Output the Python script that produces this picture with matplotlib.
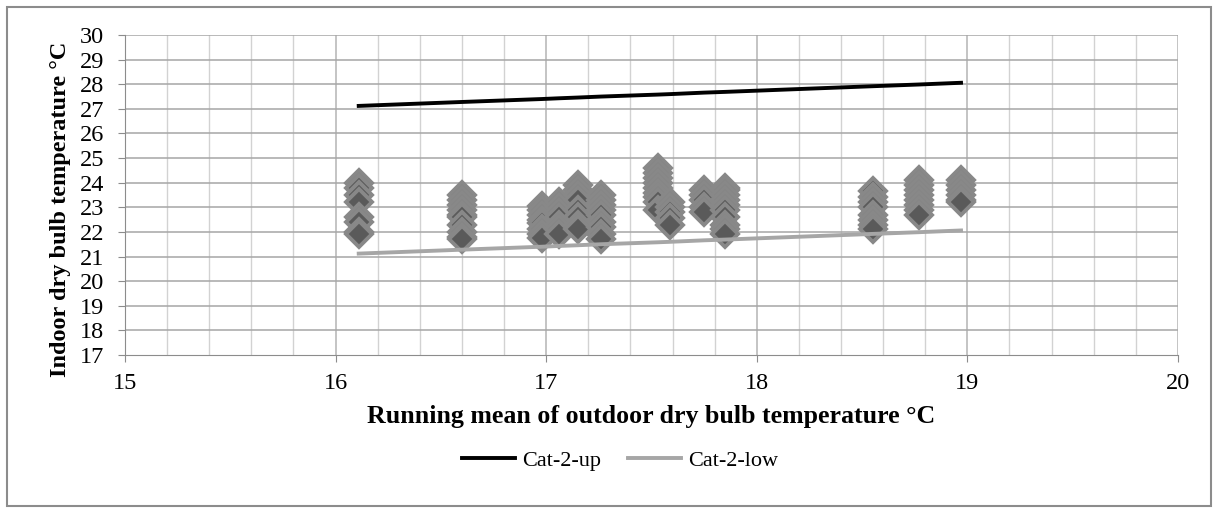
import matplotlib.pyplot as plt
from matplotlib.patches import Rectangle

plt.rcParams['font.family'] = ['Liberation Serif', 'DejaVu Serif']

# measured indoor temperatures, grouped by running mean outdoor temperature
groups_x = [16.11, 16.60, 16.98, 17.06, 17.15, 17.26, 17.53, 17.59, 17.75, 17.85, 18.55, 18.77, 18.97]
groups_y = [
    [24.0, 23.8, 23.5, 23.2, 22.6, 22.4, 22.0, 21.9],
    [23.5, 23.3, 23.1, 22.9, 22.7, 22.6, 22.3, 22.0, 21.8, 21.7],
    [23.05, 22.9, 22.7, 22.5, 22.35, 22.1, 21.9, 21.75],
    [23.2, 23.0, 22.8, 22.6, 22.3, 22.1, 21.9],
    [23.9, 23.7, 23.5, 23.3, 22.9, 22.6, 22.3, 22.1],
    [23.5, 23.3, 23.1, 22.9, 22.7, 22.4, 22.2, 21.9, 21.7],
    [24.6, 24.4, 24.2, 24.0, 23.8, 23.6, 23.4, 23.2, 22.9],
    [23.2, 23.0, 22.8, 22.55, 22.3],
    [23.7, 23.5, 23.3, 23.0, 22.8],
    [23.8, 23.7, 23.5, 23.3, 23.1, 22.9, 22.6, 22.3, 22.1, 21.9],
    [23.65, 23.4, 23.2, 23.0, 22.7, 22.5, 22.3, 22.1],
    [24.1, 23.9, 23.7, 23.5, 23.3, 23.1, 22.9, 22.7],
    [24.1, 23.9, 23.7, 23.5, 23.3, 23.2],
]

# category II comfort limits
cat2_up = [27.12, 27.28, 27.40, 27.43, 27.46, 27.50, 27.58, 27.60, 27.66, 27.69, 27.92, 27.99, 28.06]
cat2_low = [21.12, 21.28, 21.40, 21.43, 21.46, 21.50, 21.58, 21.60, 21.66, 21.69, 21.92, 21.99, 22.06]

fig = plt.figure(figsize=(12.18, 5.12), dpi=100)
fig.patches.append(Rectangle((0.006, 0.012), 0.988, 0.974, transform=fig.transFigure,
                             fill=False, edgecolor='#8c8c8c', linewidth=1.5))
ax = fig.add_axes([0.1026, 0.3066, 0.8645, 0.625])

# grid
for v in range(151, 201):
    xv = v / 10
    if v % 10 == 0:
        ax.axvline(xv, color='#b4b4b4', linewidth=1.1, zorder=0)
    elif v % 2 == 0:
        ax.axvline(xv, color='#d2d2d2', linewidth=1.0, zorder=0)
for yv in range(18, 31):
    ax.axhline(yv, color='#a6a6a6', linewidth=1.1, zorder=0)

for gx, gy in zip(groups_x, groups_y):
    ax.plot([gx] * len(gy), gy, linestyle='none', marker='D', markersize=13.5,
            markerfacecolor='#5a5a5a', markeredgecolor='#888888', markeredgewidth=2.8, zorder=3)

ax.plot(groups_x, cat2_up, color='black', linewidth=2.8, label='Cat-2-up', zorder=4)
ax.plot(groups_x, cat2_low, color='#a6a6a6', linewidth=2.8, label='Cat-2-low', zorder=4)

ax.set_xlim(15, 20)
ax.set_ylim(17, 30)
ax.set_xticks(range(15, 21))
ax.set_yticks(range(17, 31))
for s in ['top', 'right']:
    ax.spines[s].set_visible(False)
for s in ['left', 'bottom']:
    ax.spines[s].set_color('#8c8c8c')
ax.tick_params(direction='out', length=5, color='#8c8c8c', labelsize=17.5)
ax.tick_params(axis='x', pad=8)
ax.tick_params(axis='y', pad=10)

ax.set_xlabel('Running mean of outdoor dry bulb temperature °C', fontsize=18.6, fontweight='bold', labelpad=8)
ax.set_ylabel('Indoor dry bulb temperature °C', fontsize=17.5, fontweight='bold')
ax.yaxis.set_label_coords(-0.051, 0.455)

ax.legend(loc='center', bbox_to_anchor=(0.47, -0.33), ncol=2, frameon=False,
          fontsize=16, handlelength=2.4, columnspacing=1.2, handletextpad=0.3)

fig.savefig('out.png', dpi=100)
